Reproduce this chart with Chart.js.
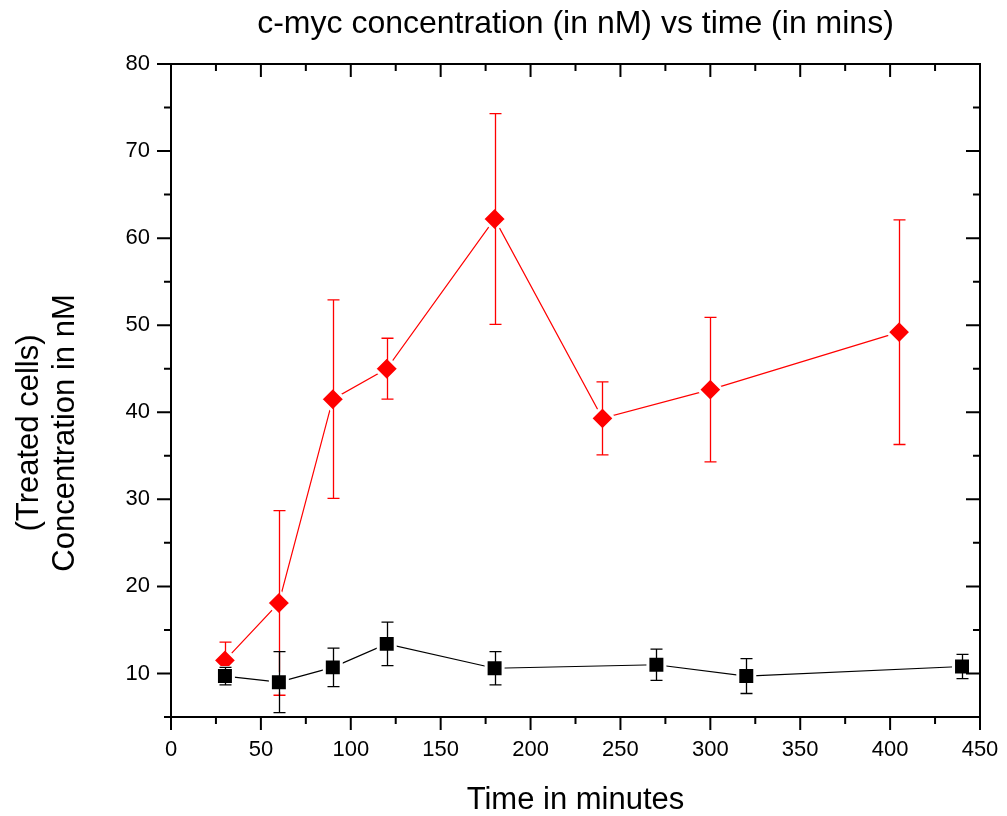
<!DOCTYPE html>
<html lang="en">
<head>
  <meta charset="UTF-8">
  <title>c-myc concentration vs time</title>
  <script src="https://cdn.jsdelivr.net/npm/chart.js"></script>
  <style>
    body { margin: 0; background: #fff; }
  </style>
</head>
<body>
  <canvas id="mycChart" width="1007" height="816"></canvas>

  <script>
    // black squares (control) and red diamonds (treated)
    const controlTimes = [30, 60, 90, 120, 180, 270, 320, 440];
    const controlMean = [9.7, 9.0, 10.7, 13.4, 10.6, 11.0, 9.7, 10.8];
    const controlErr = [1.0, 3.5, 2.2, 2.5, 1.9, 1.8, 2.0, 1.4];

    const treatedTimes = [30, 60, 90, 120, 180, 240, 300, 405];
    const treatedMean = [11.5, 18.1, 41.5, 45.0, 62.2, 39.3, 42.6, 49.2];
    const treatedErr = [2.1, 10.6, 11.4, 3.5, 12.1, 4.2, 8.3, 12.9];

    const chartTitle = 'c-myc concentration (in nM) vs time (in mins)';
    const yTitleLines = ['(Treated cells)', 'Concentration in nM'];

    const FONT = "'Liberation Sans', Arial, sans-serif";

    const toPoints = (xs, ys) => xs.map((x, i) => ({ x: x, y: ys[i] }));

    // vertical error bars, drawn right after each dataset
    const errorBars = {
      id: 'errorBars',
      afterDatasetDraw(chart, args) {
        const ds = chart.data.datasets[args.index];
        const xs = chart.scales.x, ys = chart.scales.y;
        const ctx = chart.ctx;
        ctx.save();
        ctx.strokeStyle = ds.borderColor;
        ctx.lineWidth = 1.3;
        ds.data.forEach((p, i) => {
          const e = ds.errors[i];
          const px = Math.round(xs.getPixelForValue(p.x)) + 0.5;
          const top = ys.getPixelForValue(p.y + e);
          const bot = ys.getPixelForValue(p.y - e);
          ctx.beginPath();
          ctx.moveTo(px, top); ctx.lineTo(px, bot);
          ctx.moveTo(px - 6, top); ctx.lineTo(px + 6, top);
          ctx.moveTo(px - 6, bot); ctx.lineTo(px + 6, bot);
          ctx.stroke();
        });
        ctx.restore();
      }
    };

    // frame with ticks on all four sides (outside left/bottom, inside top/right), plus titles
    const frame = {
      id: 'frame',
      afterDraw(chart) {
        const { ctx, chartArea: a, scales } = chart;
        ctx.save();
        ctx.strokeStyle = '#000';
        ctx.lineWidth = 2;
        ctx.strokeRect(a.left, a.top, a.right - a.left, a.bottom - a.top);
        ctx.beginPath();
        scales.x.ticks.forEach(t => {
          const px = scales.x.getPixelForValue(t.value);
          const len = t.value % 50 === 0 ? 13 : 7;
          ctx.moveTo(px, a.bottom); ctx.lineTo(px, a.bottom + len);
          ctx.moveTo(px, a.top); ctx.lineTo(px, a.top + len);
        });
        scales.y.ticks.forEach(t => {
          const py = scales.y.getPixelForValue(t.value);
          const len = t.value % 10 === 0 ? 14 : 7;
          ctx.moveTo(a.left, py); ctx.lineTo(a.left - len, py);
          ctx.moveTo(a.right, py); ctx.lineTo(a.right - len, py);
        });
        ctx.stroke();

        ctx.fillStyle = '#000';
        ctx.textAlign = 'center';
        ctx.textBaseline = 'middle';

        // main title, centred over the plot box
        ctx.font = '32px ' + FONT;
        ctx.fillText(chartTitle, (a.left + a.right) / 2, 24);

        // two-line y axis title
        ctx.font = '31px ' + FONT;
        [29, 65].forEach((cx, i) => {
          ctx.save();
          ctx.translate(cx, 433);
          ctx.rotate(-Math.PI / 2);
          ctx.fillText(yTitleLines[i], 0, 0);
          ctx.restore();
        });
        ctx.restore();
      }
    };

    new Chart(document.getElementById('mycChart'), {
      type: 'line',
      data: {
        datasets: [{
          label: 'Control',
          data: toPoints(controlTimes, controlMean),
          errors: controlErr,
          borderColor: '#000000',
          backgroundColor: '#000000',
          borderWidth: 1.2,
          pointStyle: 'rect',
          pointRadius: 12,
          pointBorderColor: '#ffffff',
          pointBorderWidth: 3,
          pointBackgroundColor: '#000000'
        }, {
          label: 'Treated',
          data: toPoints(treatedTimes, treatedMean),
          errors: treatedErr,
          borderColor: '#ff0000',
          backgroundColor: '#ff0000',
          borderWidth: 1.2,
          pointStyle: 'rectRot',
          pointRadius: 12,
          pointBorderColor: '#ffffff',
          pointBorderWidth: 3,
          pointBackgroundColor: '#ff0000'
        }]
      },
      options: {
        responsive: false,
        animation: false,
        events: [],
        layout: { padding: { left: 0, right: 0, top: 64, bottom: 0 } },
        plugins: {
          legend: { display: false },
          tooltip: { enabled: false },
          title: { display: false }
        },
        scales: {
          x: {
            type: 'linear',
            min: 0,
            max: 450,
            grid: { drawOnChartArea: false, drawTicks: false },
            border: { display: false },
            ticks: {
              stepSize: 25,
              padding: 20,
              color: '#000',
              font: { family: FONT, size: 22 },
              maxRotation: 0,
              autoSkip: false,
              callback: v => (v % 50 === 0 ? v : '')
            },
            title: {
              display: true,
              text: 'Time in minutes',
              color: '#000',
              font: { family: FONT, size: 31 },
              padding: { top: 4, bottom: -3 }
            },
            afterFit: s => {
              s.height = 99;
              s.paddingLeft = 0;
              s.paddingRight = 27;
            }
          },
          y: {
            min: 5,
            max: 80,
            grid: { drawOnChartArea: false, drawTicks: false },
            border: { display: false },
            ticks: {
              stepSize: 5,
              padding: 21,
              color: '#000',
              font: { family: FONT, size: 22 },
              autoSkip: false,
              callback: v => (v % 10 === 0 ? v : '')
            },
            afterFit: s => { s.width = 171; }
          }
        }
      },
      plugins: [errorBars, frame]
    });
  </script>
</body>
</html>
